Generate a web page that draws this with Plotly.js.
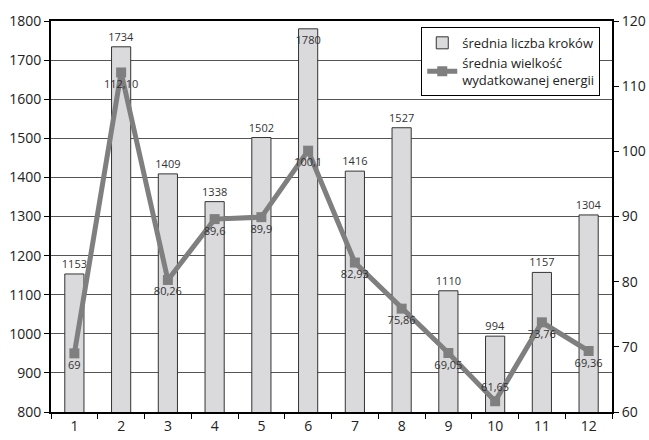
<!DOCTYPE html>
<html>
<head>
<meta charset="utf-8">
<script src="https://cdn.plot.ly/plotly-3.0.1.min.js"></script>
<style>html,body{margin:0;padding:0;background:#fff;}#chart{width:649px;height:440px;}</style>
</head>
<body>
<div id="chart"></div>
<script>
const months = ["1","2","3","4","5","6","7","8","9","10","11","12"];
const steps = [1153, 1734, 1409, 1338, 1502, 1780, 1416, 1527, 1110, 994, 1157, 1304];
const energy = [69, 112.10, 80.26, 89.6, 89.9, 100.1, 82.93, 75.86, 69.05, 61.65, 73.76, 69.36];
const energyLabels = ["69", "112,10", "80,26", "89,6", "89,9", "100,1", "82,93", "75,86", "69,05", "61,65", "73,76", "69,36"];

const font = "'Open Sans', 'Noto Sans', sans-serif";
const stepsMax = 1800;
const energyMin = 60;

const traces = [
  {
    type: 'bar', x: months, y: steps, name: 'średnia liczba kroków',
    marker: {color: '#dadadc', line: {color: '#333333', width: 1}},
    text: steps.map(String),
    textposition: steps.map(v => v > stepsMax - 40 ? 'inside' : 'outside'),
    insidetextanchor: 'end', textangle: 0,
    constraintext: 'none', cliponaxis: false,
    textfont: {family: font, size: 11, color: '#333'},
    insidetextfont: {family: font, size: 11, color: '#333'},
    outsidetextfont: {family: font, size: 11, color: '#333'}
  },
  {
    type: 'scatter', mode: 'lines+markers+text', x: months, y: energy, yaxis: 'y2',
    name: 'średnia wielkość<br>wydatkowanej energii',
    line: {color: '#7f7f7f', width: 5},
    marker: {symbol: 'square', size: 10, color: '#7f7f7f'},
    text: energyLabels,
    textposition: energy.map(v => (v < energyMin + 5) ? 'top center' : 'bottom center'),
    cliponaxis: false,
    textfont: {family: font, size: 11, color: '#333'}
  }
];

const layout = {
  width: 649, height: 440,
  margin: {l: 51, r: 37, t: 21, b: 28},
  paper_bgcolor: '#fff', plot_bgcolor: '#fff',
  font: {family: font, color: '#222'},
  bargap: 0.59,
  showlegend: true,
  legend: {
    x: 0.66, y: 0.985, xanchor: 'left', yanchor: 'top',
    bgcolor: '#fff', bordercolor: '#000', borderwidth: 1,
    font: {family: font, size: 13, color: '#222'},
    tracegroupgap: 2
  },
  xaxis: {
    type: 'category', range: [-0.5, 11.5], autorange: false,
    tickson: 'boundaries', ticks: 'outside', ticklen: 5, tickcolor: '#000',
    showline: true, linecolor: '#000', linewidth: 2, mirror: true,
    showgrid: false, tickfont: {size: 14, color: '#222'}
  },
  yaxis: {
    range: [800, 1800], dtick: 100, ticks: 'outside', ticklen: 5, tickcolor: '#000',
    showline: true, linecolor: '#000', linewidth: 2,
    showgrid: true, gridcolor: '#555', gridwidth: 1, zeroline: false,
    tickfont: {size: 14, color: '#222'}
  },
  yaxis2: {
    range: [60, 120], dtick: 10, overlaying: 'y', side: 'right',
    ticks: 'outside', ticklen: 5, tickcolor: '#000',
    showline: true, linecolor: '#000', linewidth: 2,
    showgrid: false, zeroline: false,
    tickfont: {size: 14, color: '#222'}
  }
};

Plotly.newPlot('chart', traces, layout, {displayModeBar: false, staticPlot: true});
</script>
</body>
</html>
